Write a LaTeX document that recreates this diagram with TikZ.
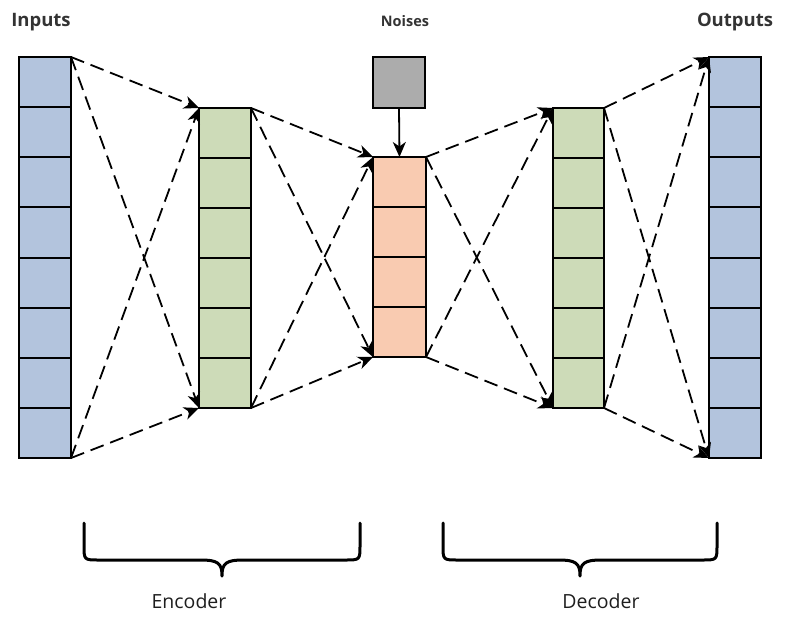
\documentclass[tikz,border=0pt]{standalone}
\usepackage{fontspec}
\setmainfont{Open Sans}
\usetikzlibrary{arrows.meta,calc}
\definecolor{inblue}{HTML}{B3C4DD}
\definecolor{encgreen}{HTML}{CDDBB8}
\definecolor{midorange}{HTML}{F9CBB1}
\definecolor{noisegray}{HTML}{ACACAC}
\definecolor{txt}{HTML}{333333}
\definecolor{txtdark}{HTML}{1E1E1E}
\tikzset{
  col/.style={draw=black, line width=2pt, inner sep=0pt, outer sep=0pt, minimum width=52pt},
  sep/.style={draw=black, line width=2pt},
  conn/.style={draw=black, line width=1.8pt, dash pattern=on 14pt off 7pt, -{Stealth[length=15pt,width=13pt,inset=4.5pt]}},
  solidconn/.style={draw=black, line width=1.8pt, -{Stealth[length=15pt,width=13pt,inset=4.5pt]}},
  brace/.style={draw=black, line width=3pt, line cap=round, line join=round},
  title/.style={text=txt, font=\fontsize{18.5}{22}\selectfont\bfseries},
  small/.style={text=txt, font=\fontsize{14.5}{17}\selectfont\bfseries},
  part/.style={text=txtdark, font=\fontsize{19.5}{23}\selectfont},
}
\begin{document}
\begin{tikzpicture}[x=1pt,y=-1pt]
\useasboundingbox (0,0) rectangle (788,618);
% columns
\node[col, fill=inblue, minimum height=401pt] (in) at (45,257.5) {};
\node[col, fill=encgreen, minimum height=300pt] (enc) at (225,258) {};
\node[col, fill=midorange, minimum height=200pt, minimum width=53pt] (mid) at (399.5,257) {};
\node[col, fill=noisegray, minimum height=51pt] (noise) at (399,82.5) {};
\node[col, fill=encgreen, minimum height=300pt, minimum width=51pt] (dec) at (578.5,258) {};
\node[col, fill=inblue, minimum height=401pt] (out) at (735,257.5) {};
% separators
\foreach \i in {1,...,7} {
  \draw[sep] ($(in.north west)!\i/8!(in.south west)$) -- ($(in.north east)!\i/8!(in.south east)$);
  \draw[sep] ($(out.north west)!\i/8!(out.south west)$) -- ($(out.north east)!\i/8!(out.south east)$);
}
\foreach \i in {1,...,5} {
  \draw[sep] ($(enc.north west)!\i/6!(enc.south west)$) -- ($(enc.north east)!\i/6!(enc.south east)$);
  \draw[sep] ($(dec.north west)!\i/6!(dec.south west)$) -- ($(dec.north east)!\i/6!(dec.south east)$);
}
\foreach \i in {1,...,3} {
  \draw[sep] ($(mid.north west)!\i/4!(mid.south west)$) -- ($(mid.north east)!\i/4!(mid.south east)$);
}
% connectors
\foreach \a/\b in {in/enc, enc/mid, mid/dec, dec/out} {
  \draw[conn] (\a.north east) -- (\b.north west);
  \draw[conn] (\a.north east) -- (\b.south west);
  \draw[conn] (\a.south east) -- (\b.north west);
  \draw[conn] (\a.south east) -- (\b.south west);
}
\draw[solidconn] (noise.south) -- (mid.north);
% labels
\node[title] (lin) at (41,22) {Inputs};
\node[title] (lout) at (735,22) {Outputs};
\node[small] (lnoise) at (405,21) {Noises};
\node[part] (lenc) at (189,601) {Encoder};
\node[part] (ldec) at (601,601) {Decoder};
% braces
\coordinate (b1l) at (84,523);
\coordinate (b1r) at (360,523);
\coordinate (b2l) at (443,523);
\coordinate (b2r) at (717,523);
\foreach \l/\r in {b1l/b1r, b2l/b2r} {
  \draw[brace] (\l) -- ($(\l)+(0,22)$) .. controls ($(\l)+(0,37)$) and ($(\l)+(0,37)$) .. ($(\l)+(15,37)$)
    -- ($($(\l)!0.5!(\r)$)+(-22,37)$) .. controls ($($(\l)!0.5!(\r)$)+(-4,37)$) and ($($(\l)!0.5!(\r)$)+(0,40)$) .. ($($(\l)!0.5!(\r)$)+(0,53)$)
    .. controls ($($(\l)!0.5!(\r)$)+(0,40)$) and ($($(\l)!0.5!(\r)$)+(4,37)$) .. ($($(\l)!0.5!(\r)$)+(22,37)$)
    -- ($(\r)+(-15,37)$) .. controls ($(\r)+(0,37)$) and ($(\r)+(0,37)$) .. ($(\r)+(0,22)$) -- (\r);
}
\end{tikzpicture}
\end{document}
